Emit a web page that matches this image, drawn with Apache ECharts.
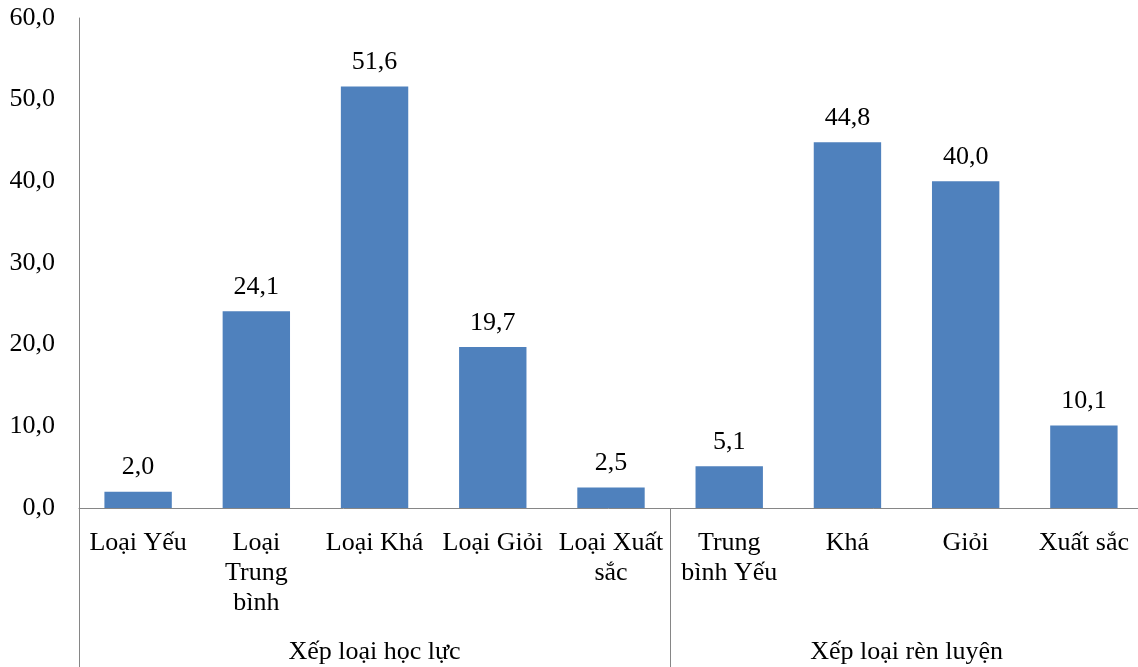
<!DOCTYPE html>
<html>
<head>
<meta charset="utf-8">
<script src="https://cdn.jsdelivr.net/npm/echarts@6/dist/echarts.min.js"></script>
<style>
html,body{margin:0;padding:0;background:#fff;}
#chart{width:1138px;height:667px;}
</style>
</head>
<body>
<div id="chart"></div>
<script>
var categories = ['Loại Yếu', 'Loại\nTrung\nbình', 'Loại Khá', 'Loại Giỏi', 'Loại Xuất\nsắc', 'Trung\nbình Yếu', 'Khá', 'Giỏi', 'Xuất sắc'];
var values = [2.0, 24.1, 51.6, 19.7, 2.5, 5.1, 44.8, 40.0, 10.1];
var groups = ['Xếp loại học lực', 'Xếp loại rèn luyện'];
var groupSizes = [5, 4];
var yTicks = [0, 10, 20, 30, 40, 50, 60];

var FONT = '"Liberation Serif", "Times New Roman", serif';
var AXIS = '#868686';
function fmt(v){ return Number(v).toFixed(1).replace('.', ','); }

var bounds = [0];
groupSizes.forEach(function(n){ bounds.push(bounds[bounds.length-1] + n); });
var centers = [];
for (var i = 0; i < groupSizes.length; i++) centers.push((bounds[i] + bounds[i+1]) / 2);

var chart = echarts.init(document.getElementById('chart'), null, {renderer: 'canvas'});
chart.setOption({
  animation: false,
  backgroundColor: '#fff',
  grid: {left: 79, width: 1064, top: 18, bottom: 159, containLabel: false, outerBoundsMode: 'none'},
  xAxis: [{
    type: 'category',
    data: categories,
    position: 'bottom',
    axisLine: {show: true, lineStyle: {color: AXIS, width: 1}},
    axisTick: {show: false},
    axisLabel: {interval: 0, color: '#000', fontFamily: FONT, fontSize: 26, lineHeight: 30, margin: 20, align: 'center'}
  }, {
    type: 'value',
    min: 0,
    max: bounds[bounds.length-1],
    position: 'bottom',
    offset: 0,
    axisLine: {show: false},
    splitLine: {show: false},
    axisTick: {show: true, customValues: bounds, length: 159, lineStyle: {color: AXIS, width: 1}},
    axisLabel: {
      customValues: centers,
      formatter: function(v){ var k = centers.indexOf(v); return k >= 0 ? groups[k] : ''; },
      color: '#000', fontFamily: FONT, fontSize: 26, lineHeight: 30, margin: 129
    }
  }],
  yAxis: {
    type: 'value',
    min: yTicks[0],
    max: yTicks[yTicks.length-1],
    interval: 10,
    axisLine: {show: true, lineStyle: {color: AXIS, width: 1}},
    axisTick: {show: false},
    splitLine: {show: false},
    axisLabel: {formatter: fmt, color: '#000', fontFamily: FONT, fontSize: 26, margin: 24}
  },
  series: [{
    type: 'bar',
    data: values,
    xAxisIndex: 0,
    barWidth: '57%',
    itemStyle: {color: '#4F81BD'},
    label: {show: true, position: 'top', distance: 11, formatter: function(p){ return fmt(p.value); },
      color: '#000', fontFamily: FONT, fontSize: 26}
  }]
});
</script>
</body>
</html>
